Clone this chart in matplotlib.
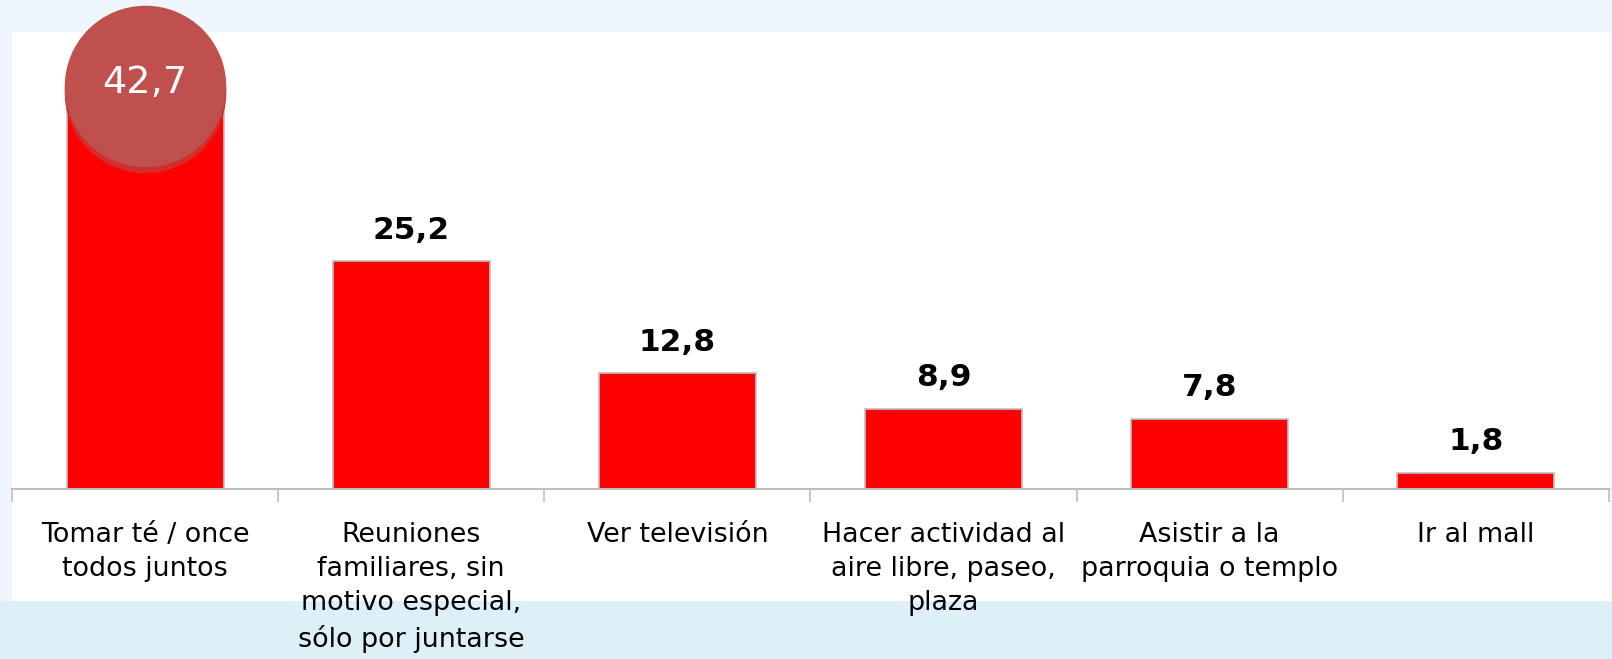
import numpy as np
import matplotlib.pyplot as plt
from matplotlib.patches import Rectangle
from matplotlib.transforms import ScaledTranslation

categories = ["Tomar té / once\ntodos juntos",
              "Reuniones\nfamiliares, sin\nmotivo especial,\nsólo por juntarse",
              "Ver televisión",
              "Hacer actividad al\naire libre, paseo,\nplaza",
              "Asistir a la\nparroquia o templo",
              "Ir al mall"]
values = [42.7, 25.2, 12.8, 8.9, 7.8, 1.8]
value_labels = ["42,7", "25,2", "12,8", "8,9", "7,8", "1,8"]

W, H = 1612, 659
fig = plt.figure(figsize=(W / 100, H / 100), dpi=100)
fig.patch.set_facecolor("#EFF7FC")

# background panels
fig.add_artist(Rectangle((0, 0), 1, (H - 601) / H, transform=fig.transFigure,
                         facecolor="#DDEFF7", edgecolor="none", zorder=-2))
fig.add_artist(Rectangle((12 / W, (H - 601) / H), (1610 - 12) / W, (601 - 32) / H,
                         transform=fig.transFigure, facecolor="white",
                         edgecolor="none", zorder=-1))

ax = fig.add_axes([12 / W, (H - 489) / H, (1609 - 12) / W, (489 - 32) / H])
ax.set_zorder(1)
ax.set_facecolor("none")
x = np.arange(len(values))
ax.bar(x, values, width=0.59, color="#FF0000", edgecolor="#BFBFBF", linewidth=1.2, zorder=2)
ax.set_xlim(-0.5, len(values) - 0.5)
ax.set_ylim(0, 50.6)

for s in ["top", "right", "left"]:
    ax.spines[s].set_visible(False)
ax.spines["bottom"].set_color("#BFBFBF")
ax.spines["bottom"].set_linewidth(1.5)
ax.set_yticks([])
ax.set_xticks(np.arange(len(values) + 1) - 0.5)
ax.set_xticklabels([])
ax.tick_params(axis="x", length=9, width=1.2, color="#BFBFBF", direction="out")

lab_font = ["DejaVu Sans"]
for i, c in enumerate(categories):
    ax.annotate(c, xy=(i, 0), xycoords="data", xytext=(0, -24), textcoords="offset points",
                ha="center", va="top", fontsize=19.4, linespacing=1.4, family=lab_font)

for i in range(1, len(values)):
    ax.annotate(value_labels[i], xy=(i, values[i]), xytext=(0, 12), textcoords="offset points",
                ha="center", va="bottom", fontsize=22.5, fontweight="bold", family=lab_font)

# highlighted circle on first bar
cy = values[0] + 1.9
shadow = ax.transData + ScaledTranslation(0, -6 / 100, fig.dpi_scale_trans)
ax.scatter([0], [cy], s=13300, color="#D22D2D", zorder=3, clip_on=False, transform=shadow)
ax.scatter([0], [cy], s=13300, color="#C0504D", zorder=4, clip_on=False)
ax.text(0, cy + 0.3, value_labels[0], color="white", fontsize=27.5, ha="center", va="center",
        zorder=5, family=lab_font)

fig.savefig("out.png", dpi=100, facecolor=fig.get_facecolor())
